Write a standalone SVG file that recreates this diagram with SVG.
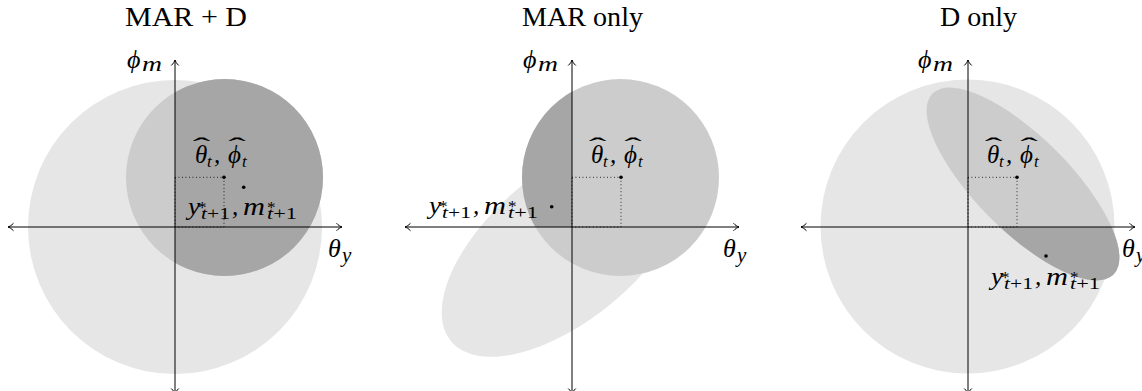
<svg xmlns="http://www.w3.org/2000/svg" width="1142" height="391" viewBox="0 0 1142 391">
<style>
.t{font-family:"Liberation Serif",serif;fill:#000}
.m{font-family:"Liberation Serif",serif;font-style:italic;fill:#000}
.r{font-family:"Liberation Serif",serif;font-style:normal;fill:#000}
.l1{fill:#e6e6e6}
.l2{fill:#cccccc}
.l3{fill:#a6a6a6}
.ax{stroke:#000;stroke-width:1;fill:none;marker-start:url(#arr);marker-end:url(#arr)}
.dot{stroke:#000;stroke-width:0.9;fill:none;stroke-dasharray:0.9 2.6}
.pt{fill:#000}
</style>
<defs>
<marker id="arr" viewBox="-7 -5 9 10" refX="0" refY="0" markerWidth="9" markerHeight="10" orient="auto-start-reverse" markerUnits="userSpaceOnUse">
<path d="M-5.5,-3.8 C-3.6,-1.6 -1.2,-0.35 0,0 C-1.2,0.35 -3.6,1.6 -5.5,3.8" fill="none" stroke="#000" stroke-width="1"/>
</marker>
<clipPath id="c1"><rect x="175" y="0" width="200" height="391"/></clipPath>
<clipPath id="c2"><rect x="400" y="0" width="172" height="227"/></clipPath>
<clipPath id="c3"><rect x="780" y="227" width="362" height="164"/></clipPath>
<g id="lab">
<text class="m" x="0" y="0" font-size="25" textLength="12" lengthAdjust="spacingAndGlyphs">y</text>
<text class="r" x="10" y="-2" font-size="17">*</text>
<text class="r" x="13" y="4" font-size="17" textLength="29" lengthAdjust="spacingAndGlyphs"><tspan class="m">t</tspan>+1</text>
<text class="m" x="44" y="0" font-size="25">,</text>
<text class="m" x="55" y="0" font-size="25" textLength="22" lengthAdjust="spacingAndGlyphs">m</text>
<text class="r" x="79" y="-2" font-size="17">*</text>
<text class="r" x="79" y="4" font-size="17" textLength="30" lengthAdjust="spacingAndGlyphs"><tspan class="m">t</tspan>+1</text>
</g>
<g id="hat">
<text class="m" x="0" y="0" font-size="25">θ</text>
<text class="r" transform="translate(6.5,-9) scale(2.2,1)" x="0" y="0" font-size="24" text-anchor="middle">ˆ</text>
<text class="m" x="12" y="4" font-size="17">t</text>
<text class="m" x="19" y="0" font-size="25">,</text>
<text class="m" x="33" y="0" font-size="25">ϕ</text>
<text class="r" transform="translate(42,-9) scale(2.2,1)" x="0" y="0" font-size="24" text-anchor="middle">ˆ</text>
<text class="m" x="47" y="4" font-size="17">t</text>
</g>
</defs>

<!-- Panel 1: MAR + D -->
<g id="panel1">
<text class="t" x="125" y="26" font-size="27" textLength="122" lengthAdjust="spacingAndGlyphs">MAR + D</text>
<g id="p1-region-light"><circle class="l1" cx="175" cy="227" r="147"/></g>
<g id="p1-region-mid"><circle class="l2" cx="224.5" cy="177.5" r="98.5"/></g>
<g id="p1-region-dark" clip-path="url(#c1)"><circle class="l3" cx="224.5" cy="177.5" r="98.5"/></g>
</g>

<!-- Panel 2: MAR only -->
<g id="panel2">
<text class="t" x="522" y="26" font-size="27" textLength="121" lengthAdjust="spacingAndGlyphs">MAR only</text>
<g id="p2-region-light"><ellipse class="l1" cx="566" cy="245" rx="150" ry="74" transform="rotate(-40 566 245)"/></g>
<g id="p2-region-mid"><circle class="l2" cx="620.5" cy="177.5" r="98.5"/></g>
<g id="p2-region-dark" clip-path="url(#c2)"><circle class="l3" cx="620.5" cy="177.5" r="98.5"/></g>
</g>

<!-- Panel 3: D only -->
<g id="panel3">
<text class="t" x="940" y="26" font-size="27" textLength="77" lengthAdjust="spacingAndGlyphs">D only</text>
<g id="p3-region-light"><circle class="l1" cx="967.5" cy="226.5" r="147"/></g>
<g id="p3-region-mid"><ellipse class="l2" cx="1023" cy="184" rx="128" ry="47" transform="rotate(45 1023 184)"/></g>
<g id="p3-region-dark" clip-path="url(#c3)"><ellipse class="l3" cx="1023" cy="184" rx="128" ry="47" transform="rotate(45 1023 184)"/></g>
</g>

<!-- Connectors: axes and dotted guides -->
<g id="connectors">
<line class="ax" x1="8" y1="227" x2="342" y2="227"/>
<line class="ax" x1="175" y1="394" x2="175" y2="60"/>
<rect class="dot" x="175" y="177.3" width="49" height="49.7"/>
<line class="ax" x1="405" y1="227" x2="739" y2="227"/>
<line class="ax" x1="572" y1="394" x2="572" y2="60"/>
<rect class="dot" x="572" y="177.3" width="49" height="49.7"/>
<line class="ax" x1="801" y1="227" x2="1135" y2="227"/>
<line class="ax" x1="968" y1="394" x2="968" y2="60"/>
<rect class="dot" x="968" y="177.3" width="49" height="49.7"/>
</g>

<!-- Points -->
<g id="p1-theta-hat"><circle class="pt" cx="224" cy="177.3" r="1.8"/><use href="#hat" x="195" y="163"/></g>
<g id="p1-ystar"><circle class="pt" cx="243.7" cy="187.3" r="1.8"/><use href="#lab" x="188" y="215"/></g>
<g id="p2-theta-hat"><circle class="pt" cx="621" cy="177.3" r="1.8"/><use href="#hat" x="591" y="163"/></g>
<g id="p2-ystar"><circle class="pt" cx="551.7" cy="206.7" r="1.8"/><use href="#lab" x="429" y="214"/></g>
<g id="p3-theta-hat"><circle class="pt" cx="1017" cy="177.3" r="1.8"/><use href="#hat" x="987" y="163"/></g>
<g id="p3-ystar"><circle class="pt" cx="1046" cy="256" r="1.8"/><use href="#lab" x="991" y="285"/></g>

<!-- Axis labels -->
<g id="axis-labels">
<text class="m" x="127" y="68" font-size="26">ϕ</text><text class="m" x="142" y="71" font-size="20" textLength="20" lengthAdjust="spacingAndGlyphs">m</text>
<text class="m" x="328" y="257" font-size="26">θ</text><text class="m" x="342" y="262" font-size="21">y</text>
<text class="m" x="523" y="68" font-size="26">ϕ</text><text class="m" x="538" y="71" font-size="20" textLength="20" lengthAdjust="spacingAndGlyphs">m</text>
<text class="m" x="723" y="257" font-size="26">θ</text><text class="m" x="737" y="262" font-size="21">y</text>
<text class="m" x="918" y="68" font-size="26">ϕ</text><text class="m" x="933" y="71" font-size="20" textLength="20" lengthAdjust="spacingAndGlyphs">m</text>
<text class="m" x="1122" y="257" font-size="26">θ</text><text class="m" x="1136" y="262" font-size="21">y</text>
</g>
</svg>
